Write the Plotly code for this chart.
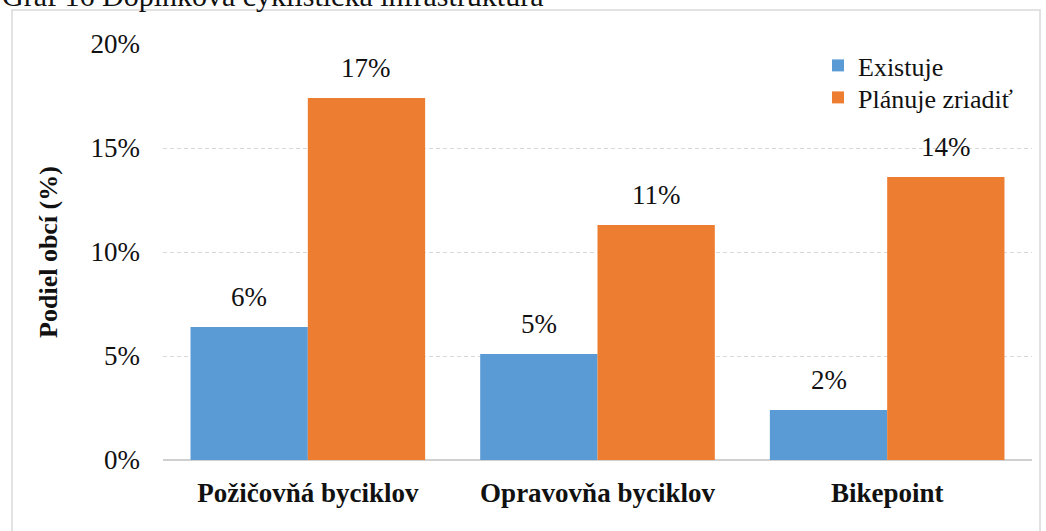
import plotly.graph_objects as go

categories = ["Požičovňá byciklov", "Opravovňa byciklov", "Bikepoint"]
existuje = [6.4, 5.1, 2.4]
planuje = [17.4, 11.3, 13.6]
series_names = ["Existuje", "Plánuje zriadiť"]
y_ticks = [0, 5, 10, 15, 20]
y_tick_labels = ["0%", "5%", "10%", "15%", "20%"]
title_text = "Graf 16 Doplnková cyklistická infraštruktúra"
y_title = "Podiel obcí (%)"

FONT = "Liberation Serif"
TXT = "#111111"

L, R, T, B = 163, 14, 44, 71
W, H = 1046, 531
pw, ph = W - L - R, H - T - B
BARGAP = 0.19

def px(x):
    return (x - L) / pw

def py(y):
    return 1 - (y - T) / ph

fig = go.Figure()
fig.add_trace(go.Bar(
    x=categories, y=existuje, name=series_names[0], legend="legend",
    marker=dict(color="#5B9BD5", line=dict(width=0)),
))
fig.add_trace(go.Bar(
    x=categories, y=planuje, name=series_names[1], legend="legend2",
    marker=dict(color="#ED7D31", line=dict(width=0)),
))

# data labels above bars, positioned on the data axes
cat_px = pw / len(categories)
half_bar = cat_px * (1 - BARGAP) / 4
annotations = []
for series, shift in ((existuje, -half_bar), (planuje, half_bar)):
    for c, v in zip(categories, series):
        annotations.append(dict(
            x=c, y=v, xref="x", yref="y", text=f"{v:.0f}%", showarrow=False,
            xshift=shift, yshift=13, yanchor="bottom", xanchor="center",
            font=dict(family=FONT, size=27, color=TXT)))

annotations.append(dict(text=title_text, xref="paper", yref="paper",
                        x=px(0), y=py(14), xanchor="left", yanchor="bottom",
                        showarrow=False, font=dict(family=FONT, size=30, color=TXT)))

legend_common = dict(xanchor="left", yanchor="top",
                     font=dict(family=FONT, size=26, color=TXT),
                     bgcolor="rgba(0,0,0,0)", itemwidth=30)

fig.update_layout(
    width=W, height=H,
    margin=dict(l=L, r=R, t=T, b=B, autoexpand=False),
    paper_bgcolor="white", plot_bgcolor="white",
    barmode="group", bargap=BARGAP, bargroupgap=0,
    font=dict(family=FONT, size=26, color=TXT),
    showlegend=True,
    legend=dict(x=px(818), y=py(42), **legend_common),
    legend2=dict(x=px(818), y=py(74), **legend_common),
    xaxis=dict(showgrid=False, ticks="", showline=False, ticklabelstandoff=14,
               tickfont=dict(family=FONT, size=27, color=TXT, weight="bold")),
    yaxis=dict(range=[0, 20], tickvals=y_ticks, ticktext=y_tick_labels,
               showgrid=True, gridcolor="#d9d9d9", griddash="4px,3px", gridwidth=1,
               zeroline=True, zerolinecolor="#d0d0d0", zerolinewidth=1.5,
               showline=False, ticks="", ticklabelstandoff=22,
               tickfont=dict(family=FONT, size=27, color=TXT),
               title=dict(text=y_title, standoff=25,
                          font=dict(family=FONT, size=26, color=TXT, weight="bold"))),
    shapes=[dict(type="rect", xref="paper", yref="paper",
                 x0=px(12), x1=px(1040), y0=py(560), y1=py(10),
                 line=dict(color="#d9d9d9", width=1.5), fillcolor="rgba(0,0,0,0)", layer="below")],
    annotations=annotations,
)

fig.write_html("out.html", config={"displayModeBar": False},
               post_script="document.body.style.margin='0';")
